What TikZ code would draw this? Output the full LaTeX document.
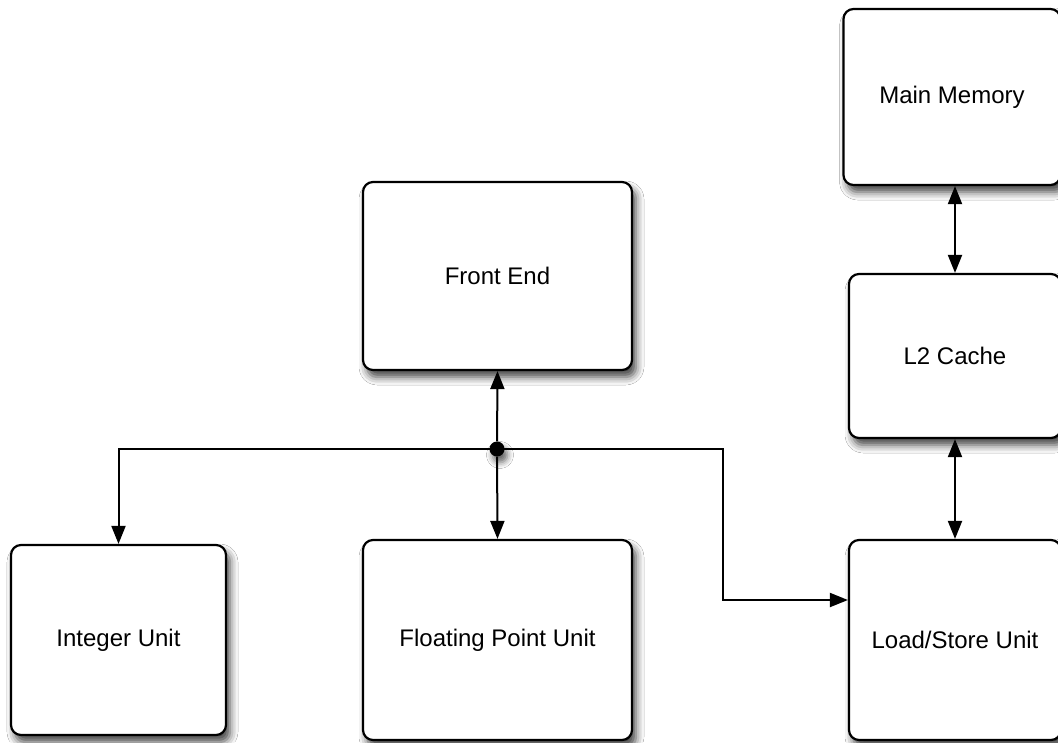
\documentclass[tikz,border=0pt]{standalone}
\usepackage{fontspec}
\setmainfont{Liberation Sans}
\usetikzlibrary{arrows.meta,shadows.blur}
\tikzset{
  unitbox/.style={draw=black, line width=2.2pt, rounded corners=10pt, fill=white,
    blur shadow={shadow xshift=4pt, shadow yshift=-7pt, shadow blur radius=8pt, shadow opacity=75},
    font=\fontsize{24}{28}\selectfont, inner sep=0pt},
  conn/.style={line width=2pt, draw=black},
  tip/.style={-{Triangle[length=18pt,width=14pt]}},
  tips/.style={{Triangle[length=18pt,width=14pt]}-{Triangle[length=18pt,width=14pt]}}
}
\begin{document}
\begin{tikzpicture}[x=1pt,y=-1pt]
\useasboundingbox (0,0) rectangle (1058,742);
\clip (0,0) rectangle (1058,742);
\fill[white] (0,0) rectangle (1058,742);
\node[unitbox, minimum width=217pt, minimum height=176pt] (mm) at (952,97) {Main Memory};
\node[unitbox, minimum width=212pt, minimum height=164pt] (l2) at (955,356) {L2 Cache};
\node[unitbox, minimum width=212pt, minimum height=200pt] (ls) at (955,640) {Load/Store Unit};
\node[unitbox, minimum width=269pt, minimum height=188pt] (fe) at (497.5,276) {Front End};
\node[unitbox, minimum width=269pt, minimum height=200pt] (fpu) at (497.5,640) {Floating Point Unit};
\node[unitbox, minimum width=215pt, minimum height=190pt] (int) at (118.5,640) {Integer Unit};
\node[circle, fill=black, inner sep=0pt, minimum size=15pt,
  blur shadow={shadow xshift=3pt, shadow yshift=-6pt, shadow blur radius=6pt, shadow opacity=60}] (dot) at (497,449) {};
\coordinate (bend) at (723,600);
\draw[conn, tip] (dot.center) -| (int.north);
\draw[conn, tip] (dot.center) -| (bend) -- (bend -| ls.west);
\draw[conn, tip] (dot) -- (fe.south);
\draw[conn, tip] (dot) -- (fpu.north);
\draw[conn, tips] (l2.north |- mm.south) -- (l2.north);
\draw[conn, tips] (l2.south) -- (ls.north);
\end{tikzpicture}
\end{document}
